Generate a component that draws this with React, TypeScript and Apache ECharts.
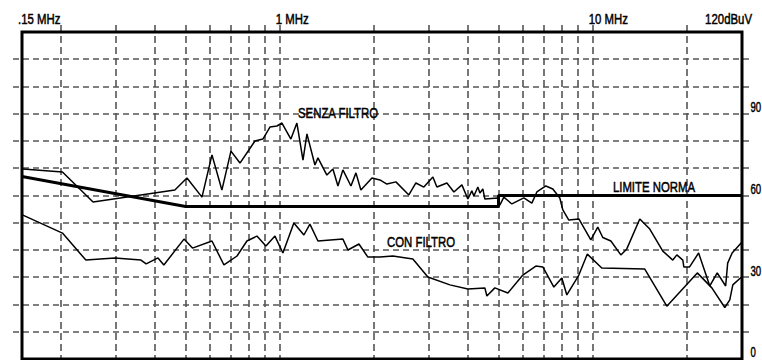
import React, { useEffect, useRef } from "react";
import * as echarts from "echarts";

// ---- data (frequency in MHz, level in dBuV) ----
const SENZA_FREQ = [0.151, 0.202, 0.253, 0.462, 0.505, 0.564, 0.607, 0.653, 0.698, 0.746, 0.833, 0.883, 0.93, 0.979, 1.016, 1.085, 1.134, 1.186, 1.221, 1.295, 1.324, 1.414, 1.478, 1.534, 1.591, 1.688, 1.751, 1.816, 1.97, 2.089, 2.199, 2.35, 2.585, 2.722, 2.886, 3.085, 3.177, 3.42, 3.601, 3.819, 3.99, 4.109, 4.171, 4.295, 4.36, 4.456, 4.522, 4.976, 5.049, 5.2, 5.516, 6.024, 6.39, 6.63, 7.083, 7.457, 7.851, 8.027, 8.389, 9.031, 9.863, 10.38, 10.77, 11.43, 12.3, 12.85, 14.14, 15.22, 16.75, 18.03, 18.57, 19.41, 19.55, 20.4, 21.8, 23.67, 25.0, 26.6, 27.0, 27.9, 30];
const SENZA_DB = [69.7, 68.6, 57.6, 62.0, 66.4, 59.4, 74.9, 62.0, 76.3, 71.9, 80.0, 80.7, 85.1, 85.5, 86.6, 80.7, 86.6, 73.0, 82.6, 71.2, 73.8, 67.5, 69.7, 63.5, 69.4, 63.5, 68.3, 62.0, 66.4, 65.7, 64.2, 65.0, 60.2, 64.6, 63.1, 66.8, 63.1, 64.6, 61.3, 63.9, 58.7, 61.7, 59.8, 63.1, 60.9, 62.4, 58.7, 59.1, 56.5, 59.4, 56.9, 59.1, 57.2, 61.3, 63.5, 62.4, 59.1, 54.7, 51.0, 51.4, 43.7, 48.4, 44.6, 43.3, 38.2, 40.4, 51.4, 47.7, 39.6, 36.3, 38.2, 36.3, 33.8, 33.8, 38.9, 26.8, 31.6, 26.8, 35.2, 38.9, 42.9];

const CON_FREQ = [0.151, 0.202, 0.24, 0.297, 0.36, 0.374, 0.408, 0.426, 0.494, 0.526, 0.607, 0.663, 0.73, 0.785, 0.845, 0.903, 0.965, 1.023, 1.109, 1.194, 1.248, 1.324, 1.591, 1.651, 1.79, 1.912, 2.089, 2.298, 2.662, 2.973, 3.496, 3.99, 4.522, 4.589, 4.867, 5.356, 5.98, 6.581, 6.928, 7.513, 7.968, 8.266, 9.031, 9.612, 10.69, 14.67, 17.25, 21.59, 24.03, 26.43, 27.42, 28.04, 29.9];
const CON_DB = [52.8, 46.2, 36.3, 37.1, 36.3, 34.9, 37.1, 34.5, 44.0, 40.7, 43.3, 34.5, 37.8, 43.3, 45.1, 41.5, 45.1, 38.9, 49.9, 45.5, 49.5, 43.3, 44.0, 40.0, 42.2, 37.4, 37.4, 37.8, 36.7, 30.1, 27.2, 25.7, 26.1, 23.1, 26.1, 24.2, 30.8, 34.1, 33.8, 26.4, 29.7, 23.5, 30.8, 38.5, 33.4, 33.0, 19.4, 31.6, 26.1, 18.9, 21.7, 27.2, 30.1];

const LIMIT_FREQ = [0.15, 0.5, 5, 5, 30];
const LIMIT_DB = [67, 56, 56, 60, 60];

const X_GRID_MHZ = [0.2, 0.3, 0.4, 0.5, 0.6, 0.7, 0.8, 0.9, 1, 2, 3, 4, 5, 6, 7, 8, 9, 10, 20];
const Y_GRID_DB = [10, 20, 30, 40, 50, 60, 70, 80, 90, 100, 110];
const Y_LABELS = [0, 30, 60, 90];
const X_LABEL_MHZ = [0.15, 1, 10];
const X_LABEL_TEXT = [".15 MHz", "1 MHz", "10 MHz"];
const UNIT_LABEL = "120dBuV";

const ANNOT_TEXT = ["SENZA FILTRO", "LIMITE NORMA", "CON FILTRO"];
const ANNOT_FREQ = [1.143, 11.6, 2.2];
const ANNOT_DB = [90.3, 63.1, 42.9];

const X_MIN = 0.15;
const X_MAX = 30;
const Y_MIN = 0;
const Y_MAX = 120;

const FONT = '"Liberation Sans", Arial, sans-serif';
const SQUEEZE = 0.76;
const GRID_COLOR = "#555";

function zip(xs: number[], ys: number[]) {
  return xs.map((x, i) => [x, ys[i]]);
}

export default function App() {
  const ref = useRef<HTMLDivElement>(null);

  useEffect(() => {
    if (!ref.current) return;
    const chart = echarts.init(ref.current, undefined, { renderer: "svg" });

    const textEl = (x: number, y: number, text: string, align: string, squeeze = SQUEEZE) => ({
      type: "text",
      x,
      y,
      scaleX: squeeze,
      style: {
        text,
        fill: "#000",
        stroke: "#000",
        lineWidth: 0.5,
        fontSize: 15,
        fontFamily: FONT,
        align,
        verticalAlign: "middle",
      },
    });

    const option: any = {
      animation: false,
      backgroundColor: "#fff",
      grid: {
        show: true,
        left: 22,
        top: 32,
        width: 720,
        height: 327,
        borderColor: "#000",
        borderWidth: 3,
        backgroundColor: "transparent",
        z: 5,
      },
      xAxis: {
        type: "log",
        logBase: 10,
        min: X_MIN,
        max: X_MAX,
        show: false,
        splitLine: { show: false },
      },
      yAxis: {
        type: "value",
        min: Y_MIN,
        max: Y_MAX,
        interval: 10,
        show: false,
        splitLine: { show: false },
      },
      series: [
        {
          type: "custom",
          coordinateSystem: "cartesian2d",
          clip: false,
          silent: true,
          z: 1,
          data: X_GRID_MHZ.map((f) => [f, 0]),
          renderItem: (params: any, api: any) => {
            const top = api.coord([api.value(0), Y_MAX]);
            const bot = api.coord([api.value(0), Y_MIN]);
            const x = Math.round(top[0]);
            return {
              type: "line",
              shape: { x1: x, y1: top[1] - 7, x2: x, y2: bot[1] },
              style: { stroke: GRID_COLOR, lineWidth: 1.6, lineDash: [7, 4] },
            };
          },
        },
        {
          type: "custom",
          coordinateSystem: "cartesian2d",
          clip: false,
          silent: true,
          z: 1,
          data: Y_GRID_DB.map((v) => [X_MIN, v]),
          renderItem: (params: any, api: any) => {
            const l = api.coord([X_MIN, api.value(1)]);
            const r = api.coord([X_MAX, api.value(1)]);
            const y = Math.round(l[1]);
            return {
              type: "line",
              shape: { x1: l[0] - 9, y1: y, x2: r[0] + 10, y2: y },
              style: { stroke: GRID_COLOR, lineWidth: 1.6, lineDash: [6, 4] },
            };
          },
        },
        {
          name: "SENZA FILTRO",
          type: "line",
          data: zip(SENZA_FREQ, SENZA_DB),
          symbol: "none",
          z: 3,
          lineStyle: { color: "#000", width: 1.5 },
        },
        {
          name: "CON FILTRO",
          type: "line",
          data: zip(CON_FREQ, CON_DB),
          symbol: "none",
          z: 3,
          lineStyle: { color: "#000", width: 1.5 },
        },
        {
          name: "LIMITE NORMA",
          type: "line",
          data: zip(LIMIT_FREQ, LIMIT_DB),
          symbol: "none",
          z: 4,
          lineStyle: { color: "#000", width: 3 },
        },
        {
          type: "custom",
          coordinateSystem: "cartesian2d",
          clip: false,
          silent: true,
          z: 6,
          data: X_LABEL_MHZ.map((f) => [f, Y_MAX]),
          renderItem: (params: any, api: any) => {
            const p = api.coord([api.value(0), api.value(1)]);
            return textEl(p[0] - 4, p[1] - 13, X_LABEL_TEXT[params.dataIndex], "left");
          },
        },
        {
          type: "custom",
          coordinateSystem: "cartesian2d",
          clip: false,
          silent: true,
          z: 6,
          data: [[X_MAX, Y_MAX]],
          renderItem: (params: any, api: any) => {
            const p = api.coord([api.value(0), api.value(1)]);
            return textEl(p[0] + 10, p[1] - 13, UNIT_LABEL, "right");
          },
        },
        {
          type: "custom",
          coordinateSystem: "cartesian2d",
          clip: false,
          silent: true,
          z: 6,
          data: Y_LABELS.map((v) => [X_MAX, v]),
          renderItem: (params: any, api: any) => {
            const p = api.coord([api.value(0), api.value(1)]);
            return textEl(p[0] + 8.5, p[1] - 6.5, String(Y_LABELS[params.dataIndex]), "left", 0.64);
          },
        },
        {
          type: "custom",
          coordinateSystem: "cartesian2d",
          clip: false,
          silent: true,
          z: 6,
          data: zip(ANNOT_FREQ, ANNOT_DB),
          renderItem: (params: any, api: any) => {
            const p = api.coord([api.value(0), api.value(1)]);
            return textEl(p[0], p[1], ANNOT_TEXT[params.dataIndex], "left");
          },
        },
      ],
    };

    chart.setOption(option);
    return () => chart.dispose();
  }, []);

  return (
    <div
      ref={ref}
      style={{ position: "fixed", left: 0, top: 0, width: 762, height: 360, background: "#fff" }}
    />
  );
}
